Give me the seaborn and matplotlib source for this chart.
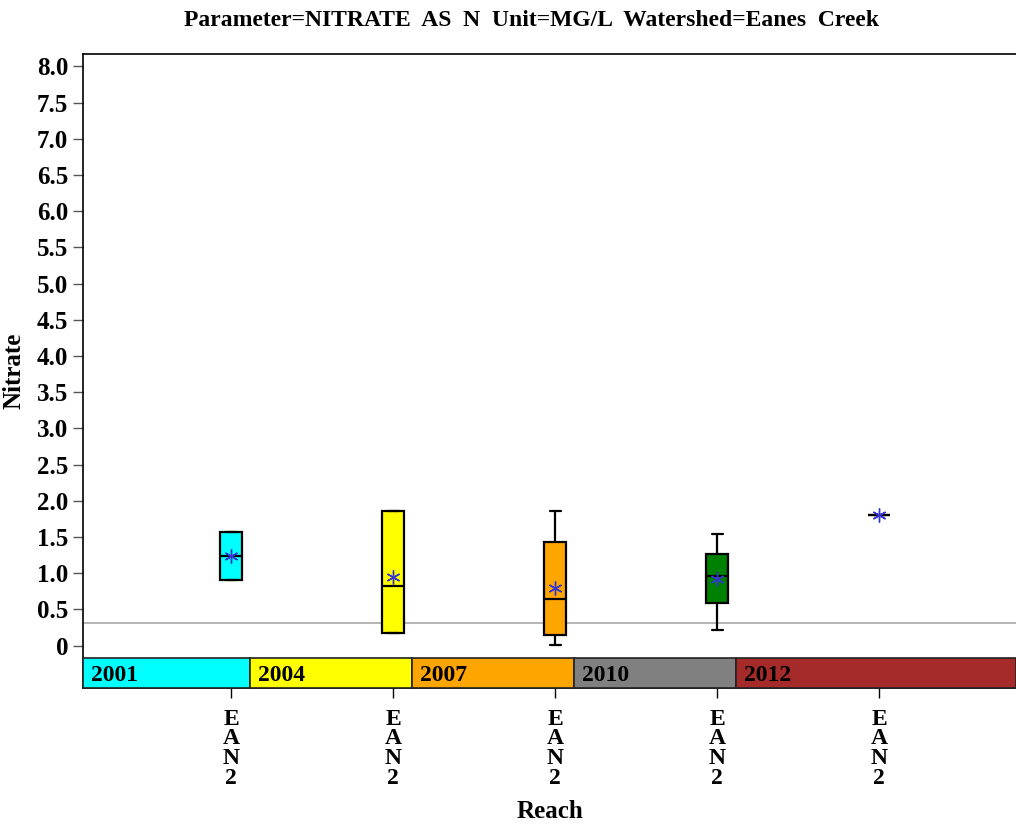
import pandas as pd
import matplotlib.pyplot as plt
import seaborn as sns

# nitrate readings per sampling year (reach EAN2), estimated from the plot
years = ['2001', '2004', '2007', '2010', '2012']
reach = 'EAN2'
nitrate_2001 = [0.91, 0.91, 0.91, 1.05, 1.235, 1.402, 1.566, 1.566, 1.566]
nitrate_2004 = [0.17, 0.17, 0.17, 0.45, 0.82, 1.202, 1.865, 1.865, 1.865]
nitrate_2007 = [0.014, 0.08, 0.148, 0.40, 0.65, 0.90, 1.436, 1.617, 1.865]
nitrate_2010 = [0.22, 0.40, 0.586, 0.75, 0.967, 1.10, 1.262, 1.455, 1.54]
nitrate_2012 = [1.80]
box_colors = ['#00FFFF', '#FFFF00', '#FFA500', '#008000', '#A52A2A']
band_colors = ['#00FFFF', '#FFFF00', '#FFA500', '#808080', '#A52A2A']
ref_level = 0.31
yticks = [i * 0.5 for i in range(17)]

rows = []
for yr, vals in zip(years, [nitrate_2001, nitrate_2004, nitrate_2007, nitrate_2010, nitrate_2012]):
    for v in vals:
        rows.append({'Year': yr, 'Reach': reach, 'Nitrate': v})
df = pd.DataFrame(rows)

sns.set_style('ticks')
plt.rcParams['font.family'] = ['Liberation Serif', 'DejaVu Serif']
plt.rcParams['font.weight'] = 'bold'
plt.rcParams['text.color'] = 'black'
plt.rcParams['axes.labelcolor'] = 'black'
plt.rcParams['xtick.color'] = 'black'
plt.rcParams['ytick.color'] = 'black'

fig = plt.figure(figsize=(10.16, 8.25), dpi=100)
ax = fig.add_axes([83.3 / 1016, 1 - 687.7 / 825, 1 - 83.3 / 1016, (687.7 - 54) / 825])

ax.axhline(ref_level, color='#a8a8a8', lw=1.2, zorder=1)

sns.boxplot(data=df, x='Year', y='Nitrate', hue='Year', order=years, hue_order=years,
            palette=box_colors, saturation=1, width=0.136, whis=(0, 100),
            linecolor='black', linewidth=1.6, legend=False, ax=ax,
            showmeans=True,
            meanprops=dict(marker=(6, 2, 0), markeredgecolor='#3535d5',
                           markerfacecolor='#3535d5', markersize=10, markeredgewidth=1.0))

xmin, xmax = -0.914, 4.844
ymin, ymax = -0.58, 8.17
band_top, band_bot = -0.175, ymin
off = 0.115

# year band along the bottom of the plot
for i, (yr, col) in enumerate(zip(years, band_colors)):
    left = xmin if i == 0 else i - 1 + off
    right = xmax if i == len(years) - 1 else i + off
    ax.bar(left, band_top - band_bot, width=right - left, bottom=band_bot, align='edge',
           color=col, edgecolor='#222222', linewidth=1.2, zorder=3, clip_on=False)
    ax.text(left + 0.05, (band_top + band_bot) / 2 - 0.03, yr, ha='left', va='center',
            fontsize=17, fontweight='bold', zorder=4)

ax.set_xlim(xmin, xmax)
ax.set_ylim(ymin, ymax)
ax.set_yticks(yticks)
ax.set_yticklabels(['0' if v == 0 else f'{v:.1f}' for v in yticks], fontsize=18, fontweight='bold')
ax.set_xticks(range(len(years)))
ax.set_xticklabels(['\n'.join(reach)] * len(years), fontsize=17, fontweight='bold', linespacing=0.92)
ax.tick_params(axis='y', direction='out', length=7, width=1, color='#555555', pad=4)
ax.tick_params(axis='x', direction='out', length=7, width=1, color='black', pad=8)

for s in ['left', 'top', 'bottom']:
    ax.spines[s].set_color('black')
    ax.spines[s].set_linewidth(1.2)
ax.spines['right'].set_visible(False)

ax.set_xlabel('Reach', fontsize=18, fontweight='bold', labelpad=8)
ax.set_ylabel('Nitrate', fontsize=18, fontweight='bold', labelpad=8)

fig.text(532 / 1016, 1 - 20 / 825, 'Parameter=NITRATE  AS  N  Unit=MG/L  Watershed=Eanes  Creek',
         ha='center', va='center', fontsize=17, fontweight='bold')

fig.savefig('out.png', dpi=100)
